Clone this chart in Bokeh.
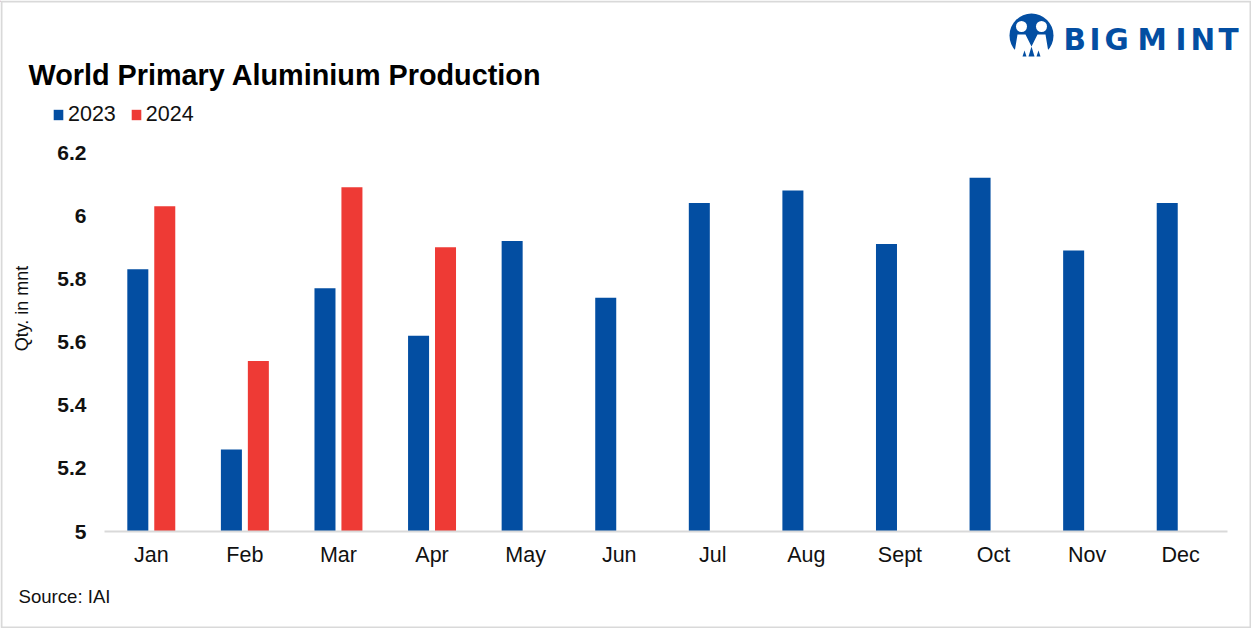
import math
from bokeh.plotting import figure
from bokeh.embed import file_html
from bokeh.resources import INLINE
from bokeh.core.properties import value
from bokeh.models import (ColumnDataSource, FactorRange, Legend, LegendItem, FixedTicker, Range1d)
from bokeh.transform import dodge

months = ["Jan", "Feb", "Mar", "Apr", "May", "Jun", "Jul", "Aug", "Sept", "Oct", "Nov", "Dec"]
y2023 = [5.83, 5.26, 5.77, 5.62, 5.92, 5.74, 6.04, 6.08, 5.91, 6.12, 5.89, 6.04]
y2024 = [6.03, 5.54, 6.09, 5.90, None, None, None, None, None, None, None, None]
y_ticks = [5, 5.2, 5.4, 5.6, 5.8, 6, 6.2]
tick_labels = {5: "5", 5.2: "5.2", 5.4: "5.4", 5.6: "5.6", 5.8: "5.8", 6: "6", 6.2: "6.2"}

BLUE = "#034ea2"
RED = "#ee3a35"
GREY = "#d9d9d9"
INK = "#111111"
FONT = "Liberation Sans"
W, H = 1251, 628

# ---- backdrop: a figure whose frame is the whole canvas, for the page furniture ----
bg = figure(width=W, height=H, x_range=Range1d(0, W), y_range=Range1d(H, 0), x_axis_type=None, y_axis_type=None,
            output_backend="svg", toolbar_location=None, margin=0, min_border=0)
bg.outline_line_color = None
bg.grid.visible = False
bg.border_fill_color = "white"
bg.background_fill_color = "white"

def lab(text, x, y, size, style="normal", color=INK, font=FONT, **kw):
    bg.text(x=[x], y=[y], text=[text], text_font=value(font), text_font_size=size, text_font_style=style,
            text_color=color, text_baseline="middle", **kw)

lab("World Primary Aluminium Production", 28, 74, "28.8px", "bold", "#000000")
lab("Source: IAI", 18, 596, "18.6px")
lab("Qty. in mnt", 21.5, 308, "18px", angle=math.pi / 2, text_align="center")

# outer frame
bg.quad(left=[1], right=[W - 1], top=[1], bottom=[H - 1], fill_alpha=0, line_color=GREY, line_width=2)

# logo
bg.circle(x=[1031], y=[35], radius=22, fill_color=BLUE, line_color=None)
bg.circle(x=[1021, 1041], y=[26, 26], radius=5.5, fill_color="white", line_color=None)
bg.patch([1013, 1017, 1025, 1031, 1037, 1045, 1049], [58, 34, 34, 46, 34, 34, 58], fill_color="white", line_color=None)
bg.patches([[1031, 1034, 1028], [1024, 1026, 1022], [1038, 1040, 1036]], [[46, 56, 56], [50, 56, 56], [50, 56, 56]],
           fill_color=BLUE, line_color=None)
for ch, x in zip("BIGMINT", [1063, 1089, 1104, 1137, 1175, 1190, 1218]):
    lab(ch, x, 39.5, "29.5px", "bold", BLUE, font="DejaVu Sans")

# legend keys sit off-canvas; the legend itself draws the swatches
k1 = bg.vbar(x=[-100], top=[1], bottom=0, width=1, fill_color=BLUE, line_color=None)
k2 = bg.vbar(x=[-100], top=[1], bottom=0, width=1, fill_color=RED, line_color=None)
legend = Legend(items=[LegendItem(label=value("2023"), renderers=[k1]), LegendItem(label=value("2024"), renderers=[k2])],
                orientation="horizontal", location=(52, 501), border_line_color=None, background_fill_alpha=0,
                glyph_width=12, glyph_height=13, label_text_font=FONT, label_text_font_size="21.5px",
                label_text_color=INK, label_standoff=4, spacing=14, padding=0, margin=0)
bg.add_layout(legend, "center")

# ---- the chart, laid over the backdrop ----
p = figure(width=W, height=H, x_range=FactorRange(*months, range_padding=0), y_range=Range1d(5, 6.2),
           output_backend="svg", toolbar_location=None, margin=(-H, 0, 0, 0),
           min_border_left=104, min_border_right=24, min_border_top=152, min_border_bottom=97)
p.background_fill_alpha = 0
p.border_fill_alpha = 0
p.outline_line_color = None
p.grid.visible = False

src = ColumnDataSource(dict(m=months, a=y2023, b=y2024))
p.vbar(x=dodge("m", -0.144, range=p.x_range), top="a", bottom=5, width=0.2245, source=src,
       fill_color=BLUE, line_color=None)
p.vbar(x=dodge("m", 0.144, range=p.x_range), top="b", bottom=5, width=0.2245, source=src,
       fill_color=RED, line_color=None)

xa = p.xaxis[0]
xa.axis_line_color = GREY
xa.axis_line_width = 2
xa.major_tick_line_color = None
xa.minor_tick_line_color = None
xa.major_label_text_font = FONT
xa.major_label_text_font_size = "21.5px"
xa.major_label_text_color = INK
xa.major_label_standoff = 5

ya = p.yaxis[0]
ya.ticker = FixedTicker(ticks=y_ticks)
ya.major_label_overrides = tick_labels
ya.axis_line_color = None
ya.major_tick_line_color = None
ya.minor_tick_line_color = None
ya.major_label_text_font = FONT
ya.major_label_text_font_style = "bold"
ya.major_label_text_font_size = "21px"
ya.major_label_text_color = INK
ya.major_label_standoff = 12

open("out.html", "w").write(file_html((bg, p), INLINE))
